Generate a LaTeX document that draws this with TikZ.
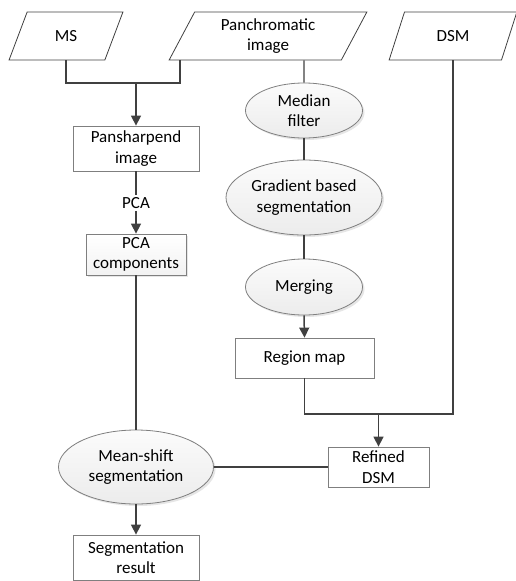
\documentclass[tikz,border=0pt]{standalone}
\usepackage{fontspec}
\setmainfont{Carlito}
\usetikzlibrary{shapes.geometric,arrows.meta,shadows}
\definecolor{linec}{HTML}{404040}
\definecolor{bordc}{HTML}{7F7F7F}
\begin{document}
\begin{tikzpicture}[x=1pt,y=-1pt,
  txt/.style={font=\fontsize{17}{20.5}\selectfont, align=center, text=black},
  boxn/.style={txt, draw=bordc, line width=0.8pt, fill=white, inner sep=0pt},
  shadebox/.style={boxn, top color=white, bottom color=gray!10, drop shadow={shadow xshift=2pt, shadow yshift=-2pt, opacity=0.2}},
  elln/.style={txt, ellipse, draw=bordc, line width=0.8pt, inner sep=0pt, top color=gray!3, bottom color=gray!15, drop shadow={shadow xshift=2pt, shadow yshift=-2pt, opacity=0.2}},
  para/.style={txt, trapezium, trapezium left angle=65, trapezium right angle=115, trapezium stretches=true, draw=linec, line width=0.8pt, inner sep=0pt, minimum height=48pt},
  conn/.style={draw=linec, line width=1.5pt},
  thin/.style={draw=linec, line width=1.2pt},
  arr/.style={conn, -{Triangle[length=10pt,width=10pt]}}
]
\useasboundingbox (0,0) rectangle (515,581);

% inputs
\node[para, minimum width=114pt] (ms) at (66,36) {MS};
\node[para, minimum width=198pt] (pan) at (268,36) {Panchromatic\\image};
\node[para, minimum width=128pt] (dsm) at (453,36) {DSM};

% left column
\node[boxn, minimum width=126pt, minimum height=45pt] (pansh) at (136,148.5) {Pansharpend\\image};
\node[txt, inner sep=2pt] (pcal) at (136,203) {PCA};
\node[shadebox, minimum width=100pt, minimum height=41pt] (pcac) at (136,254.5) {PCA\\components};
\node[elln, minimum width=155pt, minimum height=74pt] (mean) at (136,467) {Mean-shift\\segmentation};
\node[boxn, minimum width=126pt, minimum height=45pt] (segres) at (136,557.5) {Segmentation\\result};

% right column
\node[elln, minimum width=117pt, minimum height=55pt] (median) at (304,110.5) {Median\\filter};
\node[elln, minimum width=156pt, minimum height=75pt] (grad) at (304,197.5) {Gradient based\\segmentation};
\node[elln, minimum width=117pt, minimum height=56pt] (merg) at (304,287) {Merging};
\node[boxn, minimum width=139pt, minimum height=40pt] (region) at (304.5,358) {Region map};
\node[boxn, minimum width=101pt, minimum height=40pt] (refined) at (378.5,467) {Refined\\DSM};

% junctions
\coordinate (panL) at ([xshift=-88pt]pan.south);
\coordinate (panR) at ([xshift=36pt]pan.south);
\coordinate (j1) at (136,83);
\coordinate (j2) at (378.5,414);

% connectors
\draw[conn] (ms.south) |- (j1);
\draw[conn] (panL) |- (j1);
\draw[arr] (j1) -- (pansh.north);
\draw[thin] (pansh.south) -- (pcal.north);
\draw[arr] (pcal.south) -- (pcac.north);
\draw[thin] (pcac.south) -- (mean.north);
\draw[thin] (mean.east) -- (refined.west);
\draw[arr] (mean.south) -- (segres.north);

\draw[thin] (panR) -- (median.north);
\draw[thin] (median.south) -- (grad.north);
\draw[thin] (grad.south) -- (merg.north);
\draw[arr] (merg.south) -- (region.north);
\draw[conn] (region.south) |- (j2);
\draw[conn] (dsm.south) |- (j2);
\draw[arr] (j2) -- (refined.north);
\end{tikzpicture}
\end{document}
